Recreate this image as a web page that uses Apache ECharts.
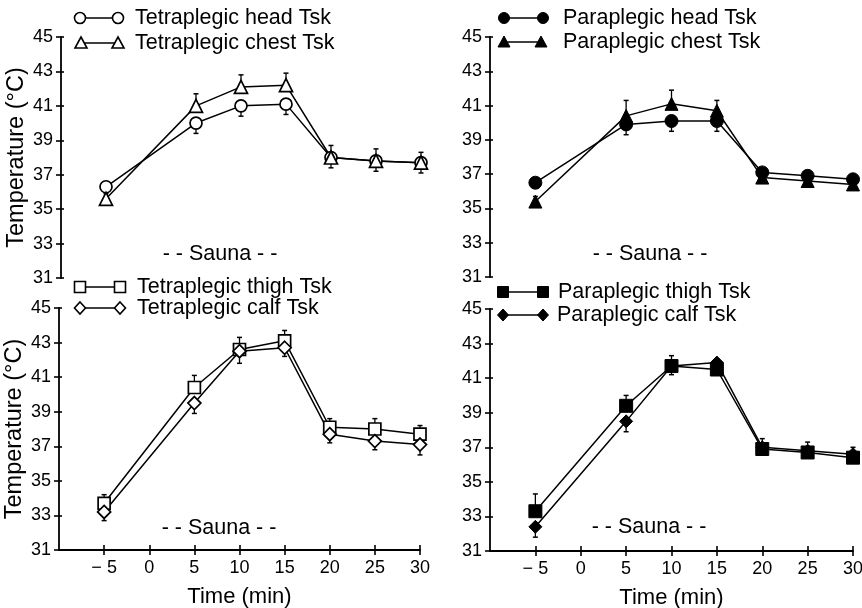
<!DOCTYPE html>
<html><head><meta charset="utf-8">
<script src="https://cdn.jsdelivr.net/npm/echarts@6/dist/echarts.min.js"></script>
<style>html,body{margin:0;padding:0;background:#fff}#c{width:862px;height:608px}</style>
</head><body><div id="c"></div>
<script>
// ---- data ----
const times = [-5, 5, 10, 15, 20, 25, 30];
const xTicks = [-5, 0, 5, 10, 15, 20, 25, 30];
const yMin = 31, yMax = 45, yStep = 2;

const tetraHead = [36.3, 40.0, 41.0, 41.1, 38.0, 37.8, 37.7];
const tetraHeadErr = [0.3, 0.6, 0.6, 0.6, 0.6, 0.6, 0.6];
const tetraChest = [35.6, 41.0, 42.1, 42.2, 38.0, 37.8, 37.7];
const tetraChestErr = [0.3, 0.7, 0.7, 0.7, 0.7, 0.7, 0.6];

const paraHead = [36.5, 39.9, 40.1, 40.1, 37.1, 36.9, 36.7];
const paraHeadErr = [0.3, 0.6, 0.6, 0.6, 0.4, 0.4, 0.3];
const paraChest = [35.4, 40.4, 41.1, 40.7, 36.8, 36.6, 36.4];
const paraChestErr = [0.3, 0.9, 0.8, 0.6, 0.5, 0.5, 0.4];

const tetraThigh = [33.7, 40.4, 42.6, 43.1, 38.1, 38.0, 37.7];
const tetraThighErr = [0.5, 0.7, 0.7, 0.6, 0.5, 0.6, 0.5];
const tetraCalf = [33.2, 39.5, 42.5, 42.7, 37.7, 37.3, 37.1];
const tetraCalfErr = [0.5, 0.6, 0.7, 0.5, 0.5, 0.5, 0.6];

const paraThigh = [33.3, 39.4, 41.7, 41.5, 36.9, 36.7, 36.4];
const paraThighErr = [1.0, 0.6, 0.6, 0.5, 0.6, 0.6, 0.6];
const paraCalf = [32.4, 38.5, 41.7, 41.9, 37.0, 36.8, 36.6];
const paraCalfErr = [0.6, 0.6, 0.5, 0.4, 0.3, 0.3, 0.3];

const labels = {
  tHead: 'Tetraplegic head Tsk', tChest: 'Tetraplegic chest Tsk',
  pHead: 'Paraplegic head Tsk', pChest: 'Paraplegic chest Tsk',
  tThigh: 'Tetraplegic thigh Tsk', tCalf: 'Tetraplegic calf Tsk',
  pThigh: 'Paraplegic thigh Tsk', pCalf: 'Paraplegic calf Tsk'
};
const yName = 'Temperature (°C)';
const xName = 'Time (min)';
const saunaText = '- - Sauna - -';

// ---- chart ----
const FONT = '"Liberation Sans", Arial, Helvetica, sans-serif';
const INK = '#000';
const chart = echarts.init(document.getElementById('c'), null, {renderer: 'canvas'});

const grids = [
  {left: 61, top: 37, width: 360, height: 241},
  {left: 490, top: 37, width: 363, height: 240},
  {left: 59, top: 308, width: 361, height: 242},
  {left: 490, top: 309, width: 363, height: 242}
].map(g => Object.assign({outerBoundsMode: 'none', containLabel: false}, g));

const xAxes = [], yAxes = [];
grids.forEach((g, i) => {
  const bottom = i >= 2;
  xAxes.push({
    type: 'value', gridIndex: i, min: -10, max: 30, interval: 5,
    show: bottom, position: 'bottom',
    name: bottom ? xName : '', nameLocation: 'middle', nameGap: 36,
    nameTextStyle: {fontFamily: FONT, fontSize: 22, color: INK},
    axisLine: {show: true, onZero: false, lineStyle: {color: INK, width: 1.8}},
    axisTick: {show: true, length: 5, customValues: xTicks, lineStyle: {color: INK, width: 1.6}},
    axisLabel: {show: true, customValues: xTicks, margin: 9, fontFamily: FONT, fontSize: 18, color: INK,
      formatter: v => String(v).replace('-', '\u2212 ')},
    splitLine: {show: false}
  });
  yAxes.push({
    type: 'value', gridIndex: i, min: yMin, max: yMax, interval: yStep, position: 'left',
    name: (i % 2 === 0) ? yName : '', nameLocation: 'middle', nameGap: 32, nameRotate: 90,
    nameTextStyle: {fontFamily: FONT, fontSize: 23.5, color: INK},
    axisLine: {show: true, onZero: false, lineStyle: {color: INK, width: 1.8}},
    axisTick: {show: true, length: 5, lineStyle: {color: INK, width: 1.6}},
    axisLabel: {margin: 8, fontFamily: FONT, fontSize: 18, color: INK},
    splitLine: {show: false}
  });
});
// inner half of crossing ticks
[2, 3].forEach(i => {
  xAxes.push({
    type: 'value', gridIndex: i, min: -10, max: 30, interval: 5, position: 'bottom',
    axisLine: {show: false, onZero: false},
    axisTick: {show: true, inside: true, length: 5, customValues: xTicks, lineStyle: {color: INK, width: 1.6}},
    axisLabel: {show: false}, splitLine: {show: false}
  });
});
[0, 1, 2, 3].forEach(i => {
  yAxes.push({
    type: 'value', gridIndex: i, min: yMin, max: yMax, interval: yStep, position: 'left',
    axisLine: {show: false, onZero: false},
    axisTick: {show: true, inside: true, length: 3, lineStyle: {color: INK, width: 1.6}},
    axisLabel: {show: false}, splitLine: {show: false}
  });
});

function pairs(vals) { return times.map((t, k) => [t, vals[k]]); }

function lineSeries(gi, name, vals, symbol, size, filled) {
  return {
    type: 'line', name, xAxisIndex: gi, yAxisIndex: gi, data: pairs(vals),
    symbol, symbolSize: size, showSymbol: true, z: 3,
    lineStyle: {color: INK, width: 1.5},
    itemStyle: filled ? {color: INK, borderColor: INK, borderWidth: 1}
                      : {color: '#fff', borderColor: INK, borderWidth: 1.7},
    emphasis: {disabled: true}, animation: false
  };
}
function errSeries(gi, vals, errs, dir) {
  return {
    type: 'custom', xAxisIndex: gi, yAxisIndex: gi, z: 2,
    data: times.map((t, k) => [t, vals[k], errs[k], dir]),
    encode: {x: 0, y: 1},
    renderItem: (params, api) => {
      const x = api.value(0), y = api.value(1), e = api.value(2), d = api.value(3);
      const p0 = api.coord([x, y]);
      const p1 = api.coord([x, y + d * e]);
      return {type: 'group', children: [
        {type: 'line', shape: {x1: p0[0], y1: p0[1], x2: p1[0], y2: p1[1]}, style: {stroke: INK, lineWidth: 1.3}},
        {type: 'line', shape: {x1: p1[0] - 2.5, y1: p1[1], x2: p1[0] + 2.5, y2: p1[1]}, style: {stroke: INK, lineWidth: 1.5}}
      ]};
    },
    animation: false
  };
}

const series = [
  errSeries(0, tetraHead, tetraHeadErr, -1), errSeries(0, tetraChest, tetraChestErr, 1),
  lineSeries(0, labels.tHead, tetraHead, 'circle', 12, false),
  lineSeries(0, labels.tChest, tetraChest, 'triangle', 13, false),

  errSeries(1, paraHead, paraHeadErr, -1), errSeries(1, paraChest, paraChestErr, 1),
  lineSeries(1, labels.pHead, paraHead, 'circle', 13, true),
  lineSeries(1, labels.pChest, paraChest, 'triangle', 13, true),

  errSeries(2, tetraThigh, tetraThighErr, 1), errSeries(2, tetraCalf, tetraCalfErr, -1),
  lineSeries(2, labels.tThigh, tetraThigh, 'rect', 12, false),
  lineSeries(2, labels.tCalf, tetraCalf, 'diamond', 13, false),

  errSeries(3, paraThigh, paraThighErr, 1), errSeries(3, paraCalf, paraCalfErr, -1),
  lineSeries(3, labels.pThigh, paraThigh, 'rect', 13, true),
  lineSeries(3, labels.pCalf, paraCalf, 'diamond', 13, true)
];

// ---- legend & annotations as graphics ----
function marker(kind, cx, cy, filled) {
  const style = filled ? {fill: INK, stroke: INK, lineWidth: 1} : {fill: '#fff', stroke: INK, lineWidth: 1.6};
  const r = 5.5;
  if (kind === 'circle') return {type: 'circle', shape: {cx, cy, r}, style, z: 11};
  if (kind === 'rect') return {type: 'rect', shape: {x: cx - r, y: cy - r, width: 2 * r, height: 2 * r}, style, z: 11};
  if (kind === 'triangle') return {type: 'polygon', shape: {points: [[cx, cy - r - 0.5], [cx + r + 0.5, cy + r - 0.5], [cx - r - 0.5, cy + r - 0.5]]}, style, z: 11};
  return {type: 'polygon', shape: {points: [[cx, cy - r - 0.5], [cx + r, cy], [cx, cy + r + 0.5], [cx - r, cy]]}, style, z: 11};
}
function legendRow(kind, filled, x1, x2, y, tx, text) {
  return [
    {type: 'line', shape: {x1, y1: y, x2, y2: y}, style: {stroke: INK, lineWidth: 1.6}, z: 10},
    marker(kind, x1, y, filled), marker(kind, x2, y, filled),
    {type: 'text', x: tx, y, style: {text, font: '21.5px ' + FONT, fill: INK, verticalAlign: 'middle', textAlign: 'left'}, z: 11}
  ];
}
function sauna(cx, cy) {
  return {type: 'text', x: cx, y: cy, style: {text: saunaText, font: '21.5px ' + FONT, fill: INK, textAlign: 'center', verticalAlign: 'middle'}, z: 11};
}
const graphics = [].concat(
  legendRow('circle', false, 80, 118, 18, 135, labels.tHead),
  legendRow('triangle', false, 81, 118, 43, 135, labels.tChest),
  legendRow('circle', true, 504, 543, 18, 563, labels.pHead),
  legendRow('triangle', true, 504, 541, 42, 563, labels.pChest),
  legendRow('rect', false, 80, 120, 287, 137, labels.tThigh),
  legendRow('diamond', false, 80, 120, 308, 137, labels.tCalf),
  legendRow('rect', true, 503, 543, 292, 558, labels.pThigh),
  legendRow('diamond', true, 503, 543, 315, 557, labels.pCalf),
  [sauna(220, 254), sauna(650, 254), sauna(219, 528), sauna(649, 527)]
);

chart.setOption({
  backgroundColor: '#fff',
  animation: false,
  textStyle: {fontFamily: FONT},
  grid: grids, xAxis: xAxes, yAxis: yAxes, series,
  graphic: {elements: graphics}
});
</script></body></html>
